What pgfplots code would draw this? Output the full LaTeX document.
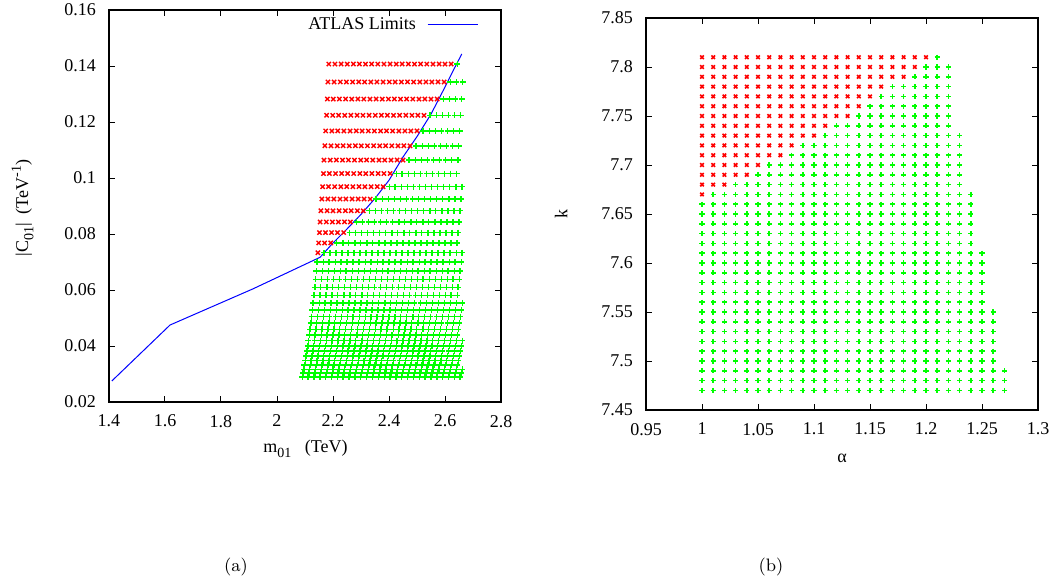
\documentclass[border=0pt]{standalone}
\usepackage{fontspec}
\usepackage{pgfplots}
\pgfplotsset{compat=1.18}
\newfontfamily\pf{Liberation Serif}
\definecolor{gpred}{RGB}{255,0,0}
\definecolor{gpgreen}{RGB}{0,255,0}
\definecolor{gpblue}{RGB}{0,0,255}
\newcommand{\gsub}[1]{{\fontsize{7}{8}\selectfont\raisebox{-2.6pt}{#1}}}
\newcommand{\gsup}[1]{{\fontsize{7}{8}\selectfont\raisebox{3.6pt}{#1}}}
\begin{document}
\begin{tikzpicture}
\path[use as bounding box] (0pt,0pt) rectangle (527.5pt,-292.5pt);
\pgfplotsset{
 gp/.style={scale only axis, width=196pt, height=196pt, anchor=south west,
   axis line style={line width=0.6pt}, every tick/.style={black, line width=0.5pt},
   major tick length=3pt, tick align=inside,
   scaled ticks=false,
   /pgf/number format/assume math mode=true,
   /pgf/number format/fixed, /pgf/number format/precision=2,
   ticklabel style={font=\pf\fontsize{9}{10}\selectfont},
   yticklabel style={xshift=-3pt},
   xticklabel style={yshift=-3pt},
 },
 rx/.style 2 args={only marks, mark=x, mark size=#1, color=gpred, mark options={line width=#2}, forget plot},
 gx/.style 2 args={only marks, mark=+, mark size=#1, color=gpgreen, mark options={line width=#2}, forget plot},
}
% ---------------- (a) ----------------
\begin{axis}[gp, at={(54.5pt,-201pt)},
  xmin=1.4, xmax=2.8, ymin=0.02, ymax=0.16,
  xtick={1.4,1.6,1.8,2,2.2,2.4,2.6,2.8},
  ytick={0.02,0.04,0.06,0.08,0.1,0.12,0.14,0.16},
]
\addplot[rx={1.5pt}{0.7pt}] coordinates {
(2.185,.1407)(2.207,.1407)(2.229,.1407)(2.251,.1407)(2.273,.1407)(2.294,.1407)(2.316,.1407)(2.338,.1407)(2.360,.1407)(2.382,.1407)(2.404,.1407)(2.426,.1407)(2.447,.1407)(2.469,.1407)(2.491,.1407)(2.513,.1407)(2.535,.1407)(2.557,.1407)(2.579,.1407)(2.600,.1407)(2.622,.1407)
(2.182,.1343)(2.204,.1343)(2.226,.1343)(2.248,.1343)(2.270,.1343)(2.292,.1343)(2.313,.1343)(2.335,.1343)(2.357,.1343)(2.379,.1343)(2.401,.1343)(2.422,.1343)(2.444,.1343)(2.466,.1343)(2.488,.1343)(2.510,.1343)(2.532,.1343)(2.553,.1343)(2.575,.1343)(2.597,.1343)
(2.180,.1282)(2.201,.1282)(2.223,.1282)(2.245,.1282)(2.267,.1282)(2.289,.1282)(2.310,.1282)(2.332,.1282)(2.354,.1282)(2.376,.1282)(2.398,.1282)(2.419,.1282)(2.441,.1282)(2.463,.1282)(2.485,.1282)(2.507,.1282)(2.528,.1282)(2.550,.1282)(2.572,.1282)
(2.177,.1224)(2.199,.1224)(2.220,.1224)(2.242,.1224)(2.264,.1224)(2.286,.1224)(2.307,.1224)(2.329,.1224)(2.351,.1224)(2.373,.1224)(2.394,.1224)(2.416,.1224)(2.438,.1224)(2.460,.1224)(2.482,.1224)(2.503,.1224)(2.525,.1224)
(2.174,.1168)(2.196,.1168)(2.217,.1168)(2.239,.1168)(2.261,.1168)(2.283,.1168)(2.304,.1168)(2.326,.1168)(2.348,.1168)(2.370,.1168)(2.391,.1168)(2.413,.1168)(2.435,.1168)(2.457,.1168)(2.478,.1168)(2.500,.1168)
(2.171,.1115)(2.193,.1115)(2.215,.1115)(2.236,.1115)(2.258,.1115)(2.280,.1115)(2.301,.1115)(2.323,.1115)(2.345,.1115)(2.367,.1115)(2.388,.1115)(2.410,.1115)(2.432,.1115)(2.453,.1115)(2.475,.1115)
(2.168,.1064)(2.190,.1064)(2.212,.1064)(2.234,.1064)(2.255,.1064)(2.277,.1064)(2.299,.1064)(2.320,.1064)(2.342,.1064)(2.364,.1064)(2.385,.1064)(2.407,.1064)(2.429,.1064)(2.450,.1064)
(2.166,.1016)(2.187,.1016)(2.209,.1016)(2.231,.1016)(2.252,.1016)(2.274,.1016)(2.296,.1016)(2.317,.1016)(2.339,.1016)(2.361,.1016)(2.382,.1016)(2.404,.1016)
(2.163,.0969)(2.184,.0969)(2.206,.0969)(2.228,.0969)(2.249,.0969)(2.271,.0969)(2.293,.0969)(2.314,.0969)(2.336,.0969)(2.358,.0969)(2.379,.0969)
(2.160,.0925)(2.182,.0925)(2.203,.0925)(2.225,.0925)(2.246,.0925)(2.268,.0925)(2.290,.0925)(2.311,.0925)(2.333,.0925)
(2.157,.0883)(2.179,.0883)(2.200,.0883)(2.222,.0883)(2.244,.0883)(2.265,.0883)(2.287,.0883)(2.308,.0883)
(2.154,.0843)(2.176,.0843)(2.198,.0843)(2.219,.0843)(2.241,.0843)(2.262,.0843)
(2.152,.0805)(2.173,.0805)(2.195,.0805)(2.216,.0805)(2.238,.0805)
(2.149,.0768)(2.170,.0768)(2.192,.0768)
(2.146,.0733)
};
\addplot[gx={1.5pt}{0.7pt}] coordinates {
(2.644,.1407)
(2.619,.1343)(2.641,.1343)(2.663,.1343)
(2.594,.1282)(2.616,.1282)(2.637,.1282)(2.659,.1282)
(2.547,.1224)(2.569,.1224)(2.590,.1224)(2.612,.1224)(2.634,.1224)(2.656,.1224)
(2.522,.1168)(2.544,.1168)(2.565,.1168)(2.587,.1168)(2.609,.1168)(2.631,.1168)(2.652,.1168)
(2.497,.1115)(2.519,.1115)(2.540,.1115)(2.562,.1115)(2.584,.1115)(2.605,.1115)(2.627,.1115)(2.649,.1115)
(2.472,.1064)(2.494,.1064)(2.515,.1064)(2.537,.1064)(2.559,.1064)(2.580,.1064)(2.602,.1064)(2.624,.1064)(2.646,.1064)
(2.426,.1016)(2.447,.1016)(2.469,.1016)(2.491,.1016)(2.512,.1016)(2.534,.1016)(2.555,.1016)(2.577,.1016)(2.599,.1016)(2.620,.1016)(2.642,.1016)
(2.401,.0969)(2.422,.0969)(2.444,.0969)(2.466,.0969)(2.487,.0969)(2.509,.0969)(2.531,.0969)(2.552,.0969)(2.574,.0969)(2.595,.0969)(2.617,.0969)(2.639,.0969)(2.660,.0969)
(2.354,.0925)(2.376,.0925)(2.398,.0925)(2.419,.0925)(2.441,.0925)(2.462,.0925)(2.484,.0925)(2.506,.0925)(2.527,.0925)(2.549,.0925)(2.570,.0925)(2.592,.0925)(2.614,.0925)(2.635,.0925)(2.657,.0925)
(2.330,.0883)(2.351,.0883)(2.373,.0883)(2.395,.0883)(2.416,.0883)(2.438,.0883)(2.459,.0883)(2.481,.0883)(2.502,.0883)(2.524,.0883)(2.546,.0883)(2.567,.0883)(2.589,.0883)(2.610,.0883)(2.632,.0883)(2.653,.0883)
(2.284,.0843)(2.305,.0843)(2.327,.0843)(2.348,.0843)(2.370,.0843)(2.391,.0843)(2.413,.0843)(2.435,.0843)(2.456,.0843)(2.478,.0843)(2.499,.0843)(2.521,.0843)(2.542,.0843)(2.564,.0843)(2.585,.0843)(2.607,.0843)(2.628,.0843)(2.650,.0843)
(2.259,.0805)(2.281,.0805)(2.302,.0805)(2.324,.0805)(2.345,.0805)(2.367,.0805)(2.388,.0805)(2.410,.0805)(2.431,.0805)(2.453,.0805)(2.474,.0805)(2.496,.0805)(2.517,.0805)(2.539,.0805)(2.560,.0805)(2.582,.0805)(2.604,.0805)(2.625,.0805)(2.647,.0805)
(2.213,.0768)(2.235,.0768)(2.256,.0768)(2.278,.0768)(2.299,.0768)(2.321,.0768)(2.342,.0768)(2.364,.0768)(2.385,.0768)(2.407,.0768)(2.428,.0768)(2.450,.0768)(2.471,.0768)(2.493,.0768)(2.514,.0768)(2.536,.0768)(2.557,.0768)(2.579,.0768)(2.600,.0768)(2.622,.0768)(2.643,.0768)
(2.168,.0733)(2.189,.0733)(2.210,.0733)(2.232,.0733)(2.253,.0733)(2.275,.0733)(2.296,.0733)(2.318,.0733)(2.339,.0733)(2.361,.0733)(2.382,.0733)(2.404,.0733)(2.425,.0733)(2.447,.0733)(2.468,.0733)(2.489,.0733)(2.511,.0733)(2.532,.0733)(2.554,.0733)(2.575,.0733)(2.597,.0733)(2.618,.0733)(2.640,.0733)(2.661,.0733)
(2.143,.0700)(2.165,.0700)(2.186,.0700)(2.208,.0700)(2.229,.0700)(2.250,.0700)(2.272,.0700)(2.293,.0700)(2.315,.0700)(2.336,.0700)(2.358,.0700)(2.379,.0700)(2.400,.0700)(2.422,.0700)(2.443,.0700)(2.465,.0700)(2.486,.0700)(2.508,.0700)(2.529,.0700)(2.550,.0700)(2.572,.0700)(2.593,.0700)(2.615,.0700)(2.636,.0700)(2.658,.0700)
(2.140,.0668)(2.162,.0668)(2.183,.0668)(2.205,.0668)(2.226,.0668)(2.247,.0668)(2.269,.0668)(2.290,.0668)(2.312,.0668)(2.333,.0668)(2.355,.0668)(2.376,.0668)(2.397,.0668)(2.419,.0668)(2.440,.0668)(2.462,.0668)(2.483,.0668)(2.504,.0668)(2.526,.0668)(2.547,.0668)(2.569,.0668)(2.590,.0668)(2.611,.0668)(2.633,.0668)(2.654,.0668)
(2.138,.0638)(2.159,.0638)(2.180,.0638)(2.202,.0638)(2.223,.0638)(2.245,.0638)(2.266,.0638)(2.287,.0638)(2.309,.0638)(2.330,.0638)(2.351,.0638)(2.373,.0638)(2.394,.0638)(2.416,.0638)(2.437,.0638)(2.458,.0638)(2.480,.0638)(2.501,.0638)(2.522,.0638)(2.544,.0638)(2.565,.0638)(2.587,.0638)(2.608,.0638)(2.629,.0638)(2.651,.0638)
(2.135,.0609)(2.156,.0609)(2.178,.0609)(2.199,.0609)(2.220,.0609)(2.242,.0609)(2.263,.0609)(2.284,.0609)(2.306,.0609)(2.327,.0609)(2.348,.0609)(2.370,.0609)(2.391,.0609)(2.412,.0609)(2.434,.0609)(2.455,.0609)(2.476,.0609)(2.498,.0609)(2.519,.0609)(2.541,.0609)(2.562,.0609)(2.583,.0609)(2.605,.0609)(2.626,.0609)(2.647,.0609)
(2.132,.0581)(2.153,.0581)(2.175,.0581)(2.196,.0581)(2.217,.0581)(2.239,.0581)(2.260,.0581)(2.281,.0581)(2.303,.0581)(2.324,.0581)(2.345,.0581)(2.367,.0581)(2.388,.0581)(2.409,.0581)(2.431,.0581)(2.452,.0581)(2.473,.0581)(2.495,.0581)(2.516,.0581)(2.537,.0581)(2.558,.0581)(2.580,.0581)(2.601,.0581)(2.622,.0581)(2.644,.0581)
(2.129,.0554)(2.151,.0554)(2.172,.0554)(2.193,.0554)(2.214,.0554)(2.236,.0554)(2.257,.0554)(2.278,.0554)(2.300,.0554)(2.321,.0554)(2.342,.0554)(2.363,.0554)(2.385,.0554)(2.406,.0554)(2.427,.0554)(2.449,.0554)(2.470,.0554)(2.491,.0554)(2.513,.0554)(2.534,.0554)(2.555,.0554)(2.576,.0554)(2.598,.0554)(2.619,.0554)(2.640,.0554)(2.662,.0554)
(2.126,.0529)(2.148,.0529)(2.169,.0529)(2.190,.0529)(2.212,.0529)(2.233,.0529)(2.254,.0529)(2.275,.0529)(2.297,.0529)(2.318,.0529)(2.339,.0529)(2.360,.0529)(2.382,.0529)(2.403,.0529)(2.424,.0529)(2.445,.0529)(2.467,.0529)(2.488,.0529)(2.509,.0529)(2.531,.0529)(2.552,.0529)(2.573,.0529)(2.594,.0529)(2.616,.0529)(2.637,.0529)(2.658,.0529)
(2.124,.0505)(2.145,.0505)(2.166,.0505)(2.187,.0505)(2.209,.0505)(2.230,.0505)(2.251,.0505)(2.272,.0505)(2.294,.0505)(2.315,.0505)(2.336,.0505)(2.357,.0505)(2.379,.0505)(2.400,.0505)(2.421,.0505)(2.442,.0505)(2.463,.0505)(2.485,.0505)(2.506,.0505)(2.527,.0505)(2.548,.0505)(2.570,.0505)(2.591,.0505)(2.612,.0505)(2.633,.0505)(2.655,.0505)
(2.121,.0482)(2.142,.0482)(2.163,.0482)(2.185,.0482)(2.206,.0482)(2.227,.0482)(2.248,.0482)(2.269,.0482)(2.291,.0482)(2.312,.0482)(2.333,.0482)(2.354,.0482)(2.375,.0482)(2.397,.0482)(2.418,.0482)(2.439,.0482)(2.460,.0482)(2.481,.0482)(2.503,.0482)(2.524,.0482)(2.545,.0482)(2.566,.0482)(2.587,.0482)(2.609,.0482)(2.630,.0482)(2.651,.0482)
(2.118,.0460)(2.139,.0460)(2.160,.0460)(2.182,.0460)(2.203,.0460)(2.224,.0460)(2.245,.0460)(2.266,.0460)(2.288,.0460)(2.309,.0460)(2.330,.0460)(2.351,.0460)(2.372,.0460)(2.393,.0460)(2.415,.0460)(2.436,.0460)(2.457,.0460)(2.478,.0460)(2.499,.0460)(2.521,.0460)(2.542,.0460)(2.563,.0460)(2.584,.0460)(2.605,.0460)(2.626,.0460)(2.648,.0460)
(2.115,.0439)(2.136,.0439)(2.158,.0439)(2.179,.0439)(2.200,.0439)(2.221,.0439)(2.242,.0439)(2.263,.0439)(2.285,.0439)(2.306,.0439)(2.327,.0439)(2.348,.0439)(2.369,.0439)(2.390,.0439)(2.411,.0439)(2.433,.0439)(2.454,.0439)(2.475,.0439)(2.496,.0439)(2.517,.0439)(2.538,.0439)(2.559,.0439)(2.581,.0439)(2.602,.0439)(2.623,.0439)(2.644,.0439)
(2.112,.0419)(2.134,.0419)(2.155,.0419)(2.176,.0419)(2.197,.0419)(2.218,.0419)(2.239,.0419)(2.260,.0419)(2.281,.0419)(2.303,.0419)(2.324,.0419)(2.345,.0419)(2.366,.0419)(2.387,.0419)(2.408,.0419)(2.429,.0419)(2.450,.0419)(2.472,.0419)(2.493,.0419)(2.514,.0419)(2.535,.0419)(2.556,.0419)(2.577,.0419)(2.598,.0419)(2.619,.0419)(2.641,.0419)(2.662,.0419)
(2.110,.0400)(2.131,.0400)(2.152,.0400)(2.173,.0400)(2.194,.0400)(2.215,.0400)(2.236,.0400)(2.257,.0400)(2.278,.0400)(2.300,.0400)(2.321,.0400)(2.342,.0400)(2.363,.0400)(2.384,.0400)(2.405,.0400)(2.426,.0400)(2.447,.0400)(2.468,.0400)(2.489,.0400)(2.511,.0400)(2.532,.0400)(2.553,.0400)(2.574,.0400)(2.595,.0400)(2.616,.0400)(2.637,.0400)(2.658,.0400)
(2.107,.0382)(2.128,.0382)(2.149,.0382)(2.170,.0382)(2.191,.0382)(2.212,.0382)(2.233,.0382)(2.254,.0382)(2.275,.0382)(2.297,.0382)(2.318,.0382)(2.339,.0382)(2.360,.0382)(2.381,.0382)(2.402,.0382)(2.423,.0382)(2.444,.0382)(2.465,.0382)(2.486,.0382)(2.507,.0382)(2.528,.0382)(2.549,.0382)(2.570,.0382)(2.591,.0382)(2.613,.0382)(2.634,.0382)(2.655,.0382)
(2.104,.0365)(2.125,.0365)(2.146,.0365)(2.167,.0365)(2.188,.0365)(2.209,.0365)(2.230,.0365)(2.251,.0365)(2.272,.0365)(2.293,.0365)(2.315,.0365)(2.336,.0365)(2.357,.0365)(2.378,.0365)(2.399,.0365)(2.420,.0365)(2.441,.0365)(2.462,.0365)(2.483,.0365)(2.504,.0365)(2.525,.0365)(2.546,.0365)(2.567,.0365)(2.588,.0365)(2.609,.0365)(2.630,.0365)(2.651,.0365)
(2.101,.0348)(2.122,.0348)(2.143,.0348)(2.164,.0348)(2.185,.0348)(2.206,.0348)(2.227,.0348)(2.248,.0348)(2.269,.0348)(2.290,.0348)(2.311,.0348)(2.332,.0348)(2.353,.0348)(2.374,.0348)(2.395,.0348)(2.416,.0348)(2.438,.0348)(2.459,.0348)(2.480,.0348)(2.501,.0348)(2.522,.0348)(2.543,.0348)(2.564,.0348)(2.585,.0348)(2.606,.0348)(2.627,.0348)(2.648,.0348)
(2.098,.0332)(2.119,.0332)(2.140,.0332)(2.161,.0332)(2.182,.0332)(2.203,.0332)(2.224,.0332)(2.245,.0332)(2.266,.0332)(2.287,.0332)(2.308,.0332)(2.329,.0332)(2.350,.0332)(2.371,.0332)(2.392,.0332)(2.413,.0332)(2.434,.0332)(2.455,.0332)(2.476,.0332)(2.497,.0332)(2.518,.0332)(2.539,.0332)(2.560,.0332)(2.581,.0332)(2.602,.0332)(2.623,.0332)(2.644,.0332)
(2.096,.0317)(2.117,.0317)(2.138,.0317)(2.159,.0317)(2.180,.0317)(2.200,.0317)(2.221,.0317)(2.242,.0317)(2.263,.0317)(2.284,.0317)(2.305,.0317)(2.326,.0317)(2.347,.0317)(2.368,.0317)(2.389,.0317)(2.410,.0317)(2.431,.0317)(2.452,.0317)(2.473,.0317)(2.494,.0317)(2.515,.0317)(2.536,.0317)(2.557,.0317)(2.578,.0317)(2.599,.0317)(2.620,.0317)(2.641,.0317)(2.662,.0317)
(2.093,.0303)(2.114,.0303)(2.135,.0303)(2.156,.0303)(2.177,.0303)(2.198,.0303)(2.218,.0303)(2.239,.0303)(2.260,.0303)(2.281,.0303)(2.302,.0303)(2.323,.0303)(2.344,.0303)(2.365,.0303)(2.386,.0303)(2.407,.0303)(2.428,.0303)(2.449,.0303)(2.470,.0303)(2.491,.0303)(2.511,.0303)(2.532,.0303)(2.553,.0303)(2.574,.0303)(2.595,.0303)(2.616,.0303)(2.637,.0303)(2.658,.0303)
(2.090,.0289)(2.111,.0289)(2.132,.0289)(2.153,.0289)(2.174,.0289)(2.195,.0289)(2.216,.0289)(2.236,.0289)(2.257,.0289)(2.278,.0289)(2.299,.0289)(2.320,.0289)(2.341,.0289)(2.362,.0289)(2.383,.0289)(2.404,.0289)(2.425,.0289)(2.445,.0289)(2.466,.0289)(2.487,.0289)(2.508,.0289)(2.529,.0289)(2.550,.0289)(2.571,.0289)(2.592,.0289)(2.613,.0289)(2.634,.0289)(2.654,.0289)
};
\addplot[color=gpblue, line width=0.5pt, forget plot] coordinates {
(1.41,0.0275)(1.618,0.0475)(1.914,0.0604)(2.154,0.0717)(2.20,0.0768)(2.25,0.0818)(2.30,0.0870)(2.35,0.0927)(2.40,0.0992)(2.45,0.1075)(2.50,0.1148)(2.55,0.1228)(2.60,0.1325)(2.63,0.1385)(2.660,0.1443)
};
% legend (key of the blue curve)
\node[font=\pf\fontsize{9}{10}\selectfont, anchor=east, inner sep=0pt] at (axis description cs:0.784,0.964) {ATLAS Limits};
\draw[gpblue, line width=0.5pt] (axis description cs:0.813,0.964) -- (axis description cs:0.941,0.964);
\end{axis}
% ---------------- (b) ----------------
\begin{axis}[gp, at={(323pt,-205pt)},
  xmin=0.95, xmax=1.3, ymin=7.45, ymax=7.85,
  xtick={0.95,1,1.05,1.1,1.15,1.2,1.25,1.3},
  ytick={7.45,7.5,7.55,7.6,7.65,7.7,7.75,7.8,7.85},
]
\addplot[rx={1.25pt}{0.8pt}] coordinates {
(1.00,7.81)(1.01,7.81)(1.02,7.81)(1.03,7.81)(1.04,7.81)(1.05,7.81)(1.06,7.81)(1.07,7.81)(1.08,7.81)(1.09,7.81)(1.10,7.81)(1.11,7.81)(1.12,7.81)(1.13,7.81)(1.14,7.81)(1.15,7.81)(1.16,7.81)(1.17,7.81)(1.18,7.81)(1.19,7.81)(1.20,7.81)
(1.00,7.80)(1.01,7.80)(1.02,7.80)(1.03,7.80)(1.04,7.80)(1.05,7.80)(1.06,7.80)(1.07,7.80)(1.08,7.80)(1.09,7.80)(1.10,7.80)(1.11,7.80)(1.12,7.80)(1.13,7.80)(1.14,7.80)(1.15,7.80)(1.16,7.80)(1.17,7.80)(1.18,7.80)(1.19,7.80)
(1.00,7.79)(1.01,7.79)(1.02,7.79)(1.03,7.79)(1.04,7.79)(1.05,7.79)(1.06,7.79)(1.07,7.79)(1.08,7.79)(1.09,7.79)(1.10,7.79)(1.11,7.79)(1.12,7.79)(1.13,7.79)(1.14,7.79)(1.15,7.79)(1.16,7.79)(1.17,7.79)(1.18,7.79)
(1.00,7.78)(1.01,7.78)(1.02,7.78)(1.03,7.78)(1.04,7.78)(1.05,7.78)(1.06,7.78)(1.07,7.78)(1.08,7.78)(1.09,7.78)(1.10,7.78)(1.11,7.78)(1.12,7.78)(1.13,7.78)(1.14,7.78)(1.15,7.78)(1.16,7.78)
(1.00,7.77)(1.01,7.77)(1.02,7.77)(1.03,7.77)(1.04,7.77)(1.05,7.77)(1.06,7.77)(1.07,7.77)(1.08,7.77)(1.09,7.77)(1.10,7.77)(1.11,7.77)(1.12,7.77)(1.13,7.77)(1.14,7.77)(1.15,7.77)
(1.00,7.76)(1.01,7.76)(1.02,7.76)(1.03,7.76)(1.04,7.76)(1.05,7.76)(1.06,7.76)(1.07,7.76)(1.08,7.76)(1.09,7.76)(1.10,7.76)(1.11,7.76)(1.12,7.76)(1.13,7.76)(1.14,7.76)
(1.00,7.75)(1.01,7.75)(1.02,7.75)(1.03,7.75)(1.04,7.75)(1.05,7.75)(1.06,7.75)(1.07,7.75)(1.08,7.75)(1.09,7.75)(1.10,7.75)(1.11,7.75)(1.12,7.75)(1.13,7.75)
(1.00,7.74)(1.01,7.74)(1.02,7.74)(1.03,7.74)(1.04,7.74)(1.05,7.74)(1.06,7.74)(1.07,7.74)(1.08,7.74)(1.09,7.74)(1.10,7.74)(1.11,7.74)
(1.00,7.73)(1.01,7.73)(1.02,7.73)(1.03,7.73)(1.04,7.73)(1.05,7.73)(1.06,7.73)(1.07,7.73)(1.08,7.73)(1.09,7.73)(1.10,7.73)
(1.00,7.72)(1.01,7.72)(1.02,7.72)(1.03,7.72)(1.04,7.72)(1.05,7.72)(1.06,7.72)(1.07,7.72)(1.08,7.72)
(1.00,7.71)(1.01,7.71)(1.02,7.71)(1.03,7.71)(1.04,7.71)(1.05,7.71)(1.06,7.71)(1.07,7.71)
(1.00,7.70)(1.01,7.70)(1.02,7.70)(1.03,7.70)(1.04,7.70)(1.05,7.70)
(1.00,7.69)(1.01,7.69)(1.02,7.69)(1.03,7.69)(1.04,7.69)
(1.00,7.68)(1.01,7.68)(1.02,7.68)
(1.00,7.67)
};
\addplot[gx={1.3pt}{0.8pt}] coordinates {
(1.21,7.81)
(1.20,7.80)(1.21,7.80)(1.22,7.80)
(1.19,7.79)(1.20,7.79)(1.21,7.79)(1.22,7.79)
(1.17,7.78)(1.18,7.78)(1.19,7.78)(1.20,7.78)(1.21,7.78)(1.22,7.78)
(1.16,7.77)(1.17,7.77)(1.18,7.77)(1.19,7.77)(1.20,7.77)(1.21,7.77)(1.22,7.77)
(1.15,7.76)(1.16,7.76)(1.17,7.76)(1.18,7.76)(1.19,7.76)(1.20,7.76)(1.21,7.76)(1.22,7.76)
(1.14,7.75)(1.15,7.75)(1.16,7.75)(1.17,7.75)(1.18,7.75)(1.19,7.75)(1.20,7.75)(1.21,7.75)(1.22,7.75)
(1.12,7.74)(1.13,7.74)(1.14,7.74)(1.15,7.74)(1.16,7.74)(1.17,7.74)(1.18,7.74)(1.19,7.74)(1.20,7.74)(1.21,7.74)(1.22,7.74)
(1.11,7.73)(1.12,7.73)(1.13,7.73)(1.14,7.73)(1.15,7.73)(1.16,7.73)(1.17,7.73)(1.18,7.73)(1.19,7.73)(1.20,7.73)(1.21,7.73)(1.22,7.73)(1.23,7.73)
(1.09,7.72)(1.10,7.72)(1.11,7.72)(1.12,7.72)(1.13,7.72)(1.14,7.72)(1.15,7.72)(1.16,7.72)(1.17,7.72)(1.18,7.72)(1.19,7.72)(1.20,7.72)(1.21,7.72)(1.22,7.72)(1.23,7.72)
(1.08,7.71)(1.09,7.71)(1.10,7.71)(1.11,7.71)(1.12,7.71)(1.13,7.71)(1.14,7.71)(1.15,7.71)(1.16,7.71)(1.17,7.71)(1.18,7.71)(1.19,7.71)(1.20,7.71)(1.21,7.71)(1.22,7.71)(1.23,7.71)
(1.06,7.70)(1.07,7.70)(1.08,7.70)(1.09,7.70)(1.10,7.70)(1.11,7.70)(1.12,7.70)(1.13,7.70)(1.14,7.70)(1.15,7.70)(1.16,7.70)(1.17,7.70)(1.18,7.70)(1.19,7.70)(1.20,7.70)(1.21,7.70)(1.22,7.70)(1.23,7.70)
(1.05,7.69)(1.06,7.69)(1.07,7.69)(1.08,7.69)(1.09,7.69)(1.10,7.69)(1.11,7.69)(1.12,7.69)(1.13,7.69)(1.14,7.69)(1.15,7.69)(1.16,7.69)(1.17,7.69)(1.18,7.69)(1.19,7.69)(1.20,7.69)(1.21,7.69)(1.22,7.69)(1.23,7.69)
(1.03,7.68)(1.04,7.68)(1.05,7.68)(1.06,7.68)(1.07,7.68)(1.08,7.68)(1.09,7.68)(1.10,7.68)(1.11,7.68)(1.12,7.68)(1.13,7.68)(1.14,7.68)(1.15,7.68)(1.16,7.68)(1.17,7.68)(1.18,7.68)(1.19,7.68)(1.20,7.68)(1.21,7.68)(1.22,7.68)(1.23,7.68)
(1.01,7.67)(1.02,7.67)(1.03,7.67)(1.04,7.67)(1.05,7.67)(1.06,7.67)(1.07,7.67)(1.08,7.67)(1.09,7.67)(1.10,7.67)(1.11,7.67)(1.12,7.67)(1.13,7.67)(1.14,7.67)(1.15,7.67)(1.16,7.67)(1.17,7.67)(1.18,7.67)(1.19,7.67)(1.20,7.67)(1.21,7.67)(1.22,7.67)(1.23,7.67)(1.24,7.67)
(1.00,7.66)(1.01,7.66)(1.02,7.66)(1.03,7.66)(1.04,7.66)(1.05,7.66)(1.06,7.66)(1.07,7.66)(1.08,7.66)(1.09,7.66)(1.10,7.66)(1.11,7.66)(1.12,7.66)(1.13,7.66)(1.14,7.66)(1.15,7.66)(1.16,7.66)(1.17,7.66)(1.18,7.66)(1.19,7.66)(1.20,7.66)(1.21,7.66)(1.22,7.66)(1.23,7.66)(1.24,7.66)
(1.00,7.65)(1.01,7.65)(1.02,7.65)(1.03,7.65)(1.04,7.65)(1.05,7.65)(1.06,7.65)(1.07,7.65)(1.08,7.65)(1.09,7.65)(1.10,7.65)(1.11,7.65)(1.12,7.65)(1.13,7.65)(1.14,7.65)(1.15,7.65)(1.16,7.65)(1.17,7.65)(1.18,7.65)(1.19,7.65)(1.20,7.65)(1.21,7.65)(1.22,7.65)(1.23,7.65)(1.24,7.65)
(1.00,7.64)(1.01,7.64)(1.02,7.64)(1.03,7.64)(1.04,7.64)(1.05,7.64)(1.06,7.64)(1.07,7.64)(1.08,7.64)(1.09,7.64)(1.10,7.64)(1.11,7.64)(1.12,7.64)(1.13,7.64)(1.14,7.64)(1.15,7.64)(1.16,7.64)(1.17,7.64)(1.18,7.64)(1.19,7.64)(1.20,7.64)(1.21,7.64)(1.22,7.64)(1.23,7.64)(1.24,7.64)
(1.00,7.63)(1.01,7.63)(1.02,7.63)(1.03,7.63)(1.04,7.63)(1.05,7.63)(1.06,7.63)(1.07,7.63)(1.08,7.63)(1.09,7.63)(1.10,7.63)(1.11,7.63)(1.12,7.63)(1.13,7.63)(1.14,7.63)(1.15,7.63)(1.16,7.63)(1.17,7.63)(1.18,7.63)(1.19,7.63)(1.20,7.63)(1.21,7.63)(1.22,7.63)(1.23,7.63)(1.24,7.63)
(1.00,7.62)(1.01,7.62)(1.02,7.62)(1.03,7.62)(1.04,7.62)(1.05,7.62)(1.06,7.62)(1.07,7.62)(1.08,7.62)(1.09,7.62)(1.10,7.62)(1.11,7.62)(1.12,7.62)(1.13,7.62)(1.14,7.62)(1.15,7.62)(1.16,7.62)(1.17,7.62)(1.18,7.62)(1.19,7.62)(1.20,7.62)(1.21,7.62)(1.22,7.62)(1.23,7.62)(1.24,7.62)
(1.00,7.61)(1.01,7.61)(1.02,7.61)(1.03,7.61)(1.04,7.61)(1.05,7.61)(1.06,7.61)(1.07,7.61)(1.08,7.61)(1.09,7.61)(1.10,7.61)(1.11,7.61)(1.12,7.61)(1.13,7.61)(1.14,7.61)(1.15,7.61)(1.16,7.61)(1.17,7.61)(1.18,7.61)(1.19,7.61)(1.20,7.61)(1.21,7.61)(1.22,7.61)(1.23,7.61)(1.24,7.61)(1.25,7.61)
(1.00,7.60)(1.01,7.60)(1.02,7.60)(1.03,7.60)(1.04,7.60)(1.05,7.60)(1.06,7.60)(1.07,7.60)(1.08,7.60)(1.09,7.60)(1.10,7.60)(1.11,7.60)(1.12,7.60)(1.13,7.60)(1.14,7.60)(1.15,7.60)(1.16,7.60)(1.17,7.60)(1.18,7.60)(1.19,7.60)(1.20,7.60)(1.21,7.60)(1.22,7.60)(1.23,7.60)(1.24,7.60)(1.25,7.60)
(1.00,7.59)(1.01,7.59)(1.02,7.59)(1.03,7.59)(1.04,7.59)(1.05,7.59)(1.06,7.59)(1.07,7.59)(1.08,7.59)(1.09,7.59)(1.10,7.59)(1.11,7.59)(1.12,7.59)(1.13,7.59)(1.14,7.59)(1.15,7.59)(1.16,7.59)(1.17,7.59)(1.18,7.59)(1.19,7.59)(1.20,7.59)(1.21,7.59)(1.22,7.59)(1.23,7.59)(1.24,7.59)(1.25,7.59)
(1.00,7.58)(1.01,7.58)(1.02,7.58)(1.03,7.58)(1.04,7.58)(1.05,7.58)(1.06,7.58)(1.07,7.58)(1.08,7.58)(1.09,7.58)(1.10,7.58)(1.11,7.58)(1.12,7.58)(1.13,7.58)(1.14,7.58)(1.15,7.58)(1.16,7.58)(1.17,7.58)(1.18,7.58)(1.19,7.58)(1.20,7.58)(1.21,7.58)(1.22,7.58)(1.23,7.58)(1.24,7.58)(1.25,7.58)
(1.00,7.57)(1.01,7.57)(1.02,7.57)(1.03,7.57)(1.04,7.57)(1.05,7.57)(1.06,7.57)(1.07,7.57)(1.08,7.57)(1.09,7.57)(1.10,7.57)(1.11,7.57)(1.12,7.57)(1.13,7.57)(1.14,7.57)(1.15,7.57)(1.16,7.57)(1.17,7.57)(1.18,7.57)(1.19,7.57)(1.20,7.57)(1.21,7.57)(1.22,7.57)(1.23,7.57)(1.24,7.57)(1.25,7.57)
(1.00,7.56)(1.01,7.56)(1.02,7.56)(1.03,7.56)(1.04,7.56)(1.05,7.56)(1.06,7.56)(1.07,7.56)(1.08,7.56)(1.09,7.56)(1.10,7.56)(1.11,7.56)(1.12,7.56)(1.13,7.56)(1.14,7.56)(1.15,7.56)(1.16,7.56)(1.17,7.56)(1.18,7.56)(1.19,7.56)(1.20,7.56)(1.21,7.56)(1.22,7.56)(1.23,7.56)(1.24,7.56)(1.25,7.56)
(1.00,7.55)(1.01,7.55)(1.02,7.55)(1.03,7.55)(1.04,7.55)(1.05,7.55)(1.06,7.55)(1.07,7.55)(1.08,7.55)(1.09,7.55)(1.10,7.55)(1.11,7.55)(1.12,7.55)(1.13,7.55)(1.14,7.55)(1.15,7.55)(1.16,7.55)(1.17,7.55)(1.18,7.55)(1.19,7.55)(1.20,7.55)(1.21,7.55)(1.22,7.55)(1.23,7.55)(1.24,7.55)(1.25,7.55)(1.26,7.55)
(1.00,7.54)(1.01,7.54)(1.02,7.54)(1.03,7.54)(1.04,7.54)(1.05,7.54)(1.06,7.54)(1.07,7.54)(1.08,7.54)(1.09,7.54)(1.10,7.54)(1.11,7.54)(1.12,7.54)(1.13,7.54)(1.14,7.54)(1.15,7.54)(1.16,7.54)(1.17,7.54)(1.18,7.54)(1.19,7.54)(1.20,7.54)(1.21,7.54)(1.22,7.54)(1.23,7.54)(1.24,7.54)(1.25,7.54)(1.26,7.54)
(1.00,7.53)(1.01,7.53)(1.02,7.53)(1.03,7.53)(1.04,7.53)(1.05,7.53)(1.06,7.53)(1.07,7.53)(1.08,7.53)(1.09,7.53)(1.10,7.53)(1.11,7.53)(1.12,7.53)(1.13,7.53)(1.14,7.53)(1.15,7.53)(1.16,7.53)(1.17,7.53)(1.18,7.53)(1.19,7.53)(1.20,7.53)(1.21,7.53)(1.22,7.53)(1.23,7.53)(1.24,7.53)(1.25,7.53)(1.26,7.53)
(1.00,7.52)(1.01,7.52)(1.02,7.52)(1.03,7.52)(1.04,7.52)(1.05,7.52)(1.06,7.52)(1.07,7.52)(1.08,7.52)(1.09,7.52)(1.10,7.52)(1.11,7.52)(1.12,7.52)(1.13,7.52)(1.14,7.52)(1.15,7.52)(1.16,7.52)(1.17,7.52)(1.18,7.52)(1.19,7.52)(1.20,7.52)(1.21,7.52)(1.22,7.52)(1.23,7.52)(1.24,7.52)(1.25,7.52)(1.26,7.52)
(1.00,7.51)(1.01,7.51)(1.02,7.51)(1.03,7.51)(1.04,7.51)(1.05,7.51)(1.06,7.51)(1.07,7.51)(1.08,7.51)(1.09,7.51)(1.10,7.51)(1.11,7.51)(1.12,7.51)(1.13,7.51)(1.14,7.51)(1.15,7.51)(1.16,7.51)(1.17,7.51)(1.18,7.51)(1.19,7.51)(1.20,7.51)(1.21,7.51)(1.22,7.51)(1.23,7.51)(1.24,7.51)(1.25,7.51)(1.26,7.51)
(1.00,7.50)(1.01,7.50)(1.02,7.50)(1.03,7.50)(1.04,7.50)(1.05,7.50)(1.06,7.50)(1.07,7.50)(1.08,7.50)(1.09,7.50)(1.10,7.50)(1.11,7.50)(1.12,7.50)(1.13,7.50)(1.14,7.50)(1.15,7.50)(1.16,7.50)(1.17,7.50)(1.18,7.50)(1.19,7.50)(1.20,7.50)(1.21,7.50)(1.22,7.50)(1.23,7.50)(1.24,7.50)(1.25,7.50)(1.26,7.50)
(1.00,7.49)(1.01,7.49)(1.02,7.49)(1.03,7.49)(1.04,7.49)(1.05,7.49)(1.06,7.49)(1.07,7.49)(1.08,7.49)(1.09,7.49)(1.10,7.49)(1.11,7.49)(1.12,7.49)(1.13,7.49)(1.14,7.49)(1.15,7.49)(1.16,7.49)(1.17,7.49)(1.18,7.49)(1.19,7.49)(1.20,7.49)(1.21,7.49)(1.22,7.49)(1.23,7.49)(1.24,7.49)(1.25,7.49)(1.26,7.49)(1.27,7.49)
(1.00,7.48)(1.01,7.48)(1.02,7.48)(1.03,7.48)(1.04,7.48)(1.05,7.48)(1.06,7.48)(1.07,7.48)(1.08,7.48)(1.09,7.48)(1.10,7.48)(1.11,7.48)(1.12,7.48)(1.13,7.48)(1.14,7.48)(1.15,7.48)(1.16,7.48)(1.17,7.48)(1.18,7.48)(1.19,7.48)(1.20,7.48)(1.21,7.48)(1.22,7.48)(1.23,7.48)(1.24,7.48)(1.25,7.48)(1.26,7.48)(1.27,7.48)
(1.00,7.47)(1.01,7.47)(1.02,7.47)(1.03,7.47)(1.04,7.47)(1.05,7.47)(1.06,7.47)(1.07,7.47)(1.08,7.47)(1.09,7.47)(1.10,7.47)(1.11,7.47)(1.12,7.47)(1.13,7.47)(1.14,7.47)(1.15,7.47)(1.16,7.47)(1.17,7.47)(1.18,7.47)(1.19,7.47)(1.20,7.47)(1.21,7.47)(1.22,7.47)(1.23,7.47)(1.24,7.47)(1.25,7.47)(1.26,7.47)(1.27,7.47)
};
\end{axis}
% ---------------- labels ----------------
\node[font=\pf\fontsize{9}{10}\selectfont, rotate=90] at (11.25pt,-104pt) {|C\gsub{01}|\ \ (TeV\gsup{-1})};
\node[font=\pf\fontsize{9}{10}\selectfont] at (152.75pt,-224.5pt) {m\gsub{01}\ \ \ (TeV)};
\node[font=\pf\fontsize{9}{10}\selectfont] at (421pt,-229pt) {α};
\node[font=\pf\fontsize{9}{10}\selectfont, rotate=90] at (280.5pt,-107pt) {k};
\node[font=\fontsize{9}{11}\selectfont] at (118pt,-283.5pt) {(a)};
\node[font=\fontsize{9}{11}\selectfont] at (385.5pt,-283.5pt) {(b)};
\end{tikzpicture}
\end{document}
